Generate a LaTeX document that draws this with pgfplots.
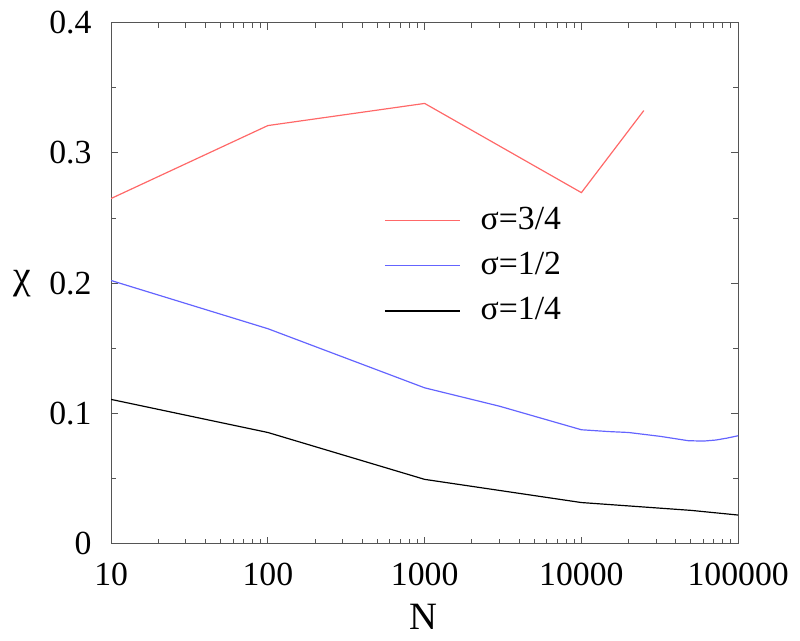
\documentclass[border=0pt]{standalone}
\usepackage{pgfplots}
\pgfplotsset{compat=1.18}
\usepackage{fontspec}
\setmainfont{LiberationSerif}[Extension=.ttf, UprightFont=*-Regular, BoldFont=*-Bold, ItalicFont=*-Italic]
\definecolor{axgray}{HTML}{555555}
\definecolor{lred}{HTML}{FF6868}
\definecolor{lblue}{HTML}{6464FF}
\begin{document}
\fontsize{17}{20}\selectfont
\begin{tikzpicture}
\begin{axis}[
  width=316pt, height=262.5pt, scale only axis,
  xmode=log, log basis x=10,
  xmin=10, xmax=100000, ymin=0, ymax=0.4,
  xtick={10,100,1000,10000,100000},
  xticklabels={10,100,1000,10000,100000},
  minor xtick={20,30,40,50,60,70,80,90,200,300,400,500,600,700,800,900,2000,3000,4000,5000,6000,7000,8000,9000,20000,30000,40000,50000,60000,70000,80000,90000},
  ytick={0,0.1,0.2,0.3,0.4},
  yticklabels={0,0.1,0.2,0.3,0.4},
  minor ytick={0.05,0.15,0.25,0.35},
  tick align=inside,
  major tick length=3.5pt, minor tick length=2.5pt,
  axis line style={axgray, line width=0.6pt},
  every tick/.style={axgray, line width=0.5pt},
  /pgf/number format/assume math mode=true,
  tick label style={font=\fontsize{17}{20}\selectfont},
  xticklabel style={yshift=-4pt},
  yticklabel style={xshift=-4pt},
  xlabel={N},
  xlabel style={font=\fontsize{19.5}{22}\selectfont, at={(axis description cs:0.498,0)}, anchor=center, yshift=-37pt},
  ylabel={χ},
  ylabel style={font=\fontsize{20}{22}\selectfont, rotate=-90, at={(axis description cs:0,0.5)}, anchor=center, xshift=-45pt},
  legend style={draw=none, fill=none, at={(axis description cs:0.435,0.655)}, anchor=north west,
    font=\fontsize{17}{20}\selectfont, row sep=5pt, inner sep=0pt},
  legend cell align=left,
  legend image code/.code={\draw[#1] (0pt,0pt) -- (38pt,0pt); \path (46pt,0pt);},
]
\addplot[color=lred, draw=lred, line width=0.6pt] coordinates {
(10,0.265) (100,0.321) (1000,0.338) (10000,0.2695) (25000,0.3325)};
\addlegendentry{σ=3/4}
\addplot[color=lblue, draw=lblue, line width=0.6pt] coordinates {
(10,0.202) (100,0.165) (1000,0.1196) (3000,0.1055) (10000,0.0874) (15000,0.0860) (20000,0.0853) (32000,0.0823) (48000,0.0790) (60000,0.0787) (72000,0.0795) (85000,0.0810) (100000,0.0828)};
\addlegendentry{σ=1/2}
\addplot[color=black, draw=black, line width=0.6pt] coordinates {
(10,0.1107) (100,0.0853) (1000,0.0493) (10000,0.0315) (50000,0.0255) (100000,0.0219)};
\addlegendentry{σ=1/4}
\end{axis}
\path ([xshift=-56pt,yshift=-45.5pt]current axis.south west) rectangle ([xshift=28pt,yshift=11pt]current axis.north east);
\end{tikzpicture}
\end{document}
